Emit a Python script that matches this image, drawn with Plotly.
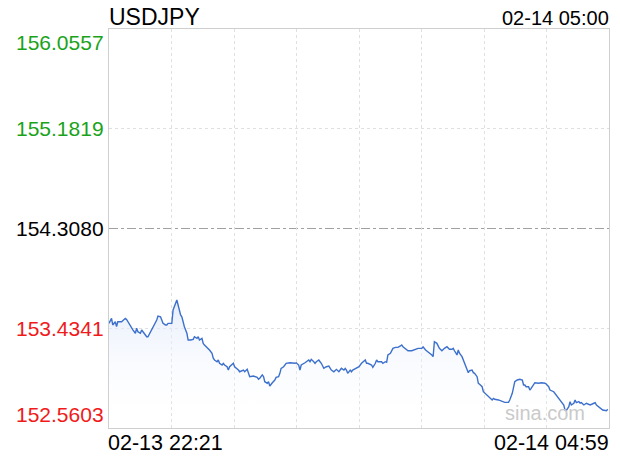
import plotly.graph_objects as go

# minutes since 02-13 22:21
minutes = [
    0, 2, 3, 5, 6, 7, 10, 13, 14, 15, 18, 19, 21, 22, 23, 25, 26, 27, 29, 30,
    31, 34, 37, 38, 39, 41, 42, 43, 45, 46, 47, 50, 51, 53, 54, 55, 56, 57, 58, 59,
    60, 62, 63, 65, 67, 68, 70, 71, 72, 74, 75, 76, 79, 80, 82, 83, 84, 86, 87, 88,
    90, 91, 92, 94, 95, 96, 99, 100, 103, 104, 107, 108, 110, 111, 112, 115, 118, 119, 120, 122,
    123, 124, 126, 127, 128, 130, 131, 132, 133, 135, 136, 137, 139, 141, 144, 147, 148, 149, 151, 152,
    153, 156, 159, 160, 161, 163, 164, 165, 167, 168, 169, 171, 173, 175, 176, 177, 179, 180, 181, 183,
    184, 185, 187, 188, 189, 190, 192, 193, 194, 197, 199, 201, 204, 205, 206, 209, 210, 212, 213, 214,
    217, 218, 220, 221, 222, 224, 225, 226, 228, 230, 232, 233, 234, 236, 238, 241, 244, 246, 249, 250,
    252, 254, 257, 258, 259, 261, 262, 263, 265, 266, 267, 269, 270, 271, 273, 274, 275, 277, 278, 279,
    281, 282, 283, 285, 286, 287, 289, 290, 291, 293, 294, 295, 297, 298, 301, 303, 305, 306, 307, 310,
    313, 315, 318, 319, 321, 322, 323, 325, 327, 329, 330, 331, 332, 334, 335, 336, 338, 339, 342, 344,
    347, 348, 350, 351, 354, 356, 359, 360, 362, 363, 364, 366, 367, 368, 370, 371, 372, 374, 375, 376,
    378, 380, 383, 386, 387, 388, 391, 393, 396, 397,
]
prices = [
    153.477, 153.521, 153.463, 153.491, 153.448, 153.491, 153.491, 153.521, 153.512, 153.491,
    153.434, 153.419, 153.390, 153.434, 153.404, 153.390, 153.419, 153.404, 153.375, 153.360,
    153.360, 153.419, 153.477, 153.506, 153.541, 153.535, 153.506, 153.477, 153.463, 153.463,
    153.477, 153.477, 153.594, 153.667, 153.682, 153.638, 153.579, 153.550, 153.535, 153.491,
    153.448, 153.390, 153.331, 153.331, 153.337, 153.360, 153.346, 153.360, 153.331, 153.346,
    153.302, 153.287, 153.258, 153.244, 153.215, 153.171, 153.156, 153.141, 153.156, 153.127,
    153.112, 153.127, 153.112, 153.097, 153.068, 153.097, 153.127, 153.097, 153.068, 153.053,
    153.068, 153.053, 153.074, 153.039, 153.010, 153.016, 153.004, 152.987, 152.996, 153.025,
    153.010, 152.966, 152.952, 152.966, 152.928, 152.957, 152.966, 152.981, 153.004, 153.010,
    153.039, 153.083, 153.097, 153.127, 153.132, 153.127, 153.127, 153.132, 153.112, 153.068,
    153.112, 153.132, 153.156, 153.141, 153.162, 153.141, 153.127, 153.141, 153.156, 153.141,
    153.127, 153.083, 153.097, 153.103, 153.083, 153.068, 153.053, 153.068, 153.074, 153.053,
    153.068, 153.083, 153.068, 153.083, 153.068, 153.039, 153.068, 153.053, 153.068, 153.083,
    153.097, 153.127, 153.156, 153.127, 153.127, 153.112, 153.092, 153.127, 153.156, 153.141,
    153.141, 153.127, 153.141, 153.136, 153.200, 153.215, 153.244, 153.258, 153.267, 153.267,
    153.279, 153.287, 153.272, 153.258, 153.237, 153.237, 153.250, 153.258, 153.258, 153.272,
    153.244, 153.229, 153.200, 153.185, 153.316, 153.302, 153.272, 153.258, 153.237, 153.250,
    153.258, 153.272, 153.258, 153.250, 153.250, 153.258, 153.237, 153.200, 153.244, 153.215,
    153.185, 153.156, 153.127, 153.083, 153.045, 153.062, 153.068, 153.045, 153.039, 153.010,
    152.952, 152.943, 152.922, 152.878, 152.849, 152.829, 152.806, 152.820, 152.812, 152.806,
    152.791, 152.785, 152.785, 152.806, 152.864, 152.922, 152.966, 152.981, 152.987, 152.981,
    152.937, 152.937, 152.922, 152.922, 152.893, 152.908, 152.937, 152.957, 152.952, 152.957,
    152.952, 152.946, 152.922, 152.893, 152.878, 152.849, 152.806, 152.791, 152.762, 152.718,
    152.712, 152.747, 152.791, 152.762, 152.777, 152.806, 152.782, 152.791, 152.777, 152.782,
    152.762, 152.777, 152.762, 152.777, 152.782, 152.762, 152.733, 152.718, 152.712, 152.724,
]

symbol = "USDJPY"
stamp = "02-14 05:00"
start_label = "02-13 22:21"
end_label = "02-14 04:59"
prev_close = 154.3080
y_levels = [156.0557, 155.1819, 154.3080, 153.4341, 152.5603]
y_level_colors = ["#1aa31a", "#1aa31a", "#000000", "#f01a1a", "#f01a1a"]
span_minutes = 398

FONT = "Liberation Sans, Arial, Helvetica, sans-serif"

fig = go.Figure()
fig.add_trace(
    go.Scatter(
        x=minutes,
        y=prices,
        mode="lines",
        line=dict(color="#3c70cc", width=1.4),
        fill="tozeroy",
        fillgradient=dict(
            type="vertical",
            colorscale=[[0, "rgba(255,255,255,0)"], [1, "rgba(222,232,250,0.75)"]],
            start=y_levels[-1],
            stop=max(prices),
        ),
        hoverinfo="skip",
        showlegend=False,
    )
)

# previous close line
fig.add_shape(
    type="line", xref="paper", x0=0, x1=1, yref="y", y0=prev_close, y1=prev_close,
    line=dict(color="#a0a0a0", width=1, dash="dashdot"), layer="below",
)

# y labels
for i, (val, col) in enumerate(zip(y_levels, y_level_colors)):
    anchor = "middle"
    if i == 0:
        anchor = "top"
    elif i == len(y_levels) - 1:
        anchor = "bottom"
    fig.add_annotation(
        x=0, xref="paper", xanchor="right", xshift=-3,
        y=val, yref="y", yanchor=anchor,
        text=f"{val:.4f}", showarrow=False,
        font=dict(family=FONT, size=21, color=col),
    )

fig.add_annotation(x=0, xref="paper", xanchor="left", xshift=-2, y=1, yref="paper",
                   yanchor="bottom", yshift=-3, text=symbol, showarrow=False,
                   font=dict(family=FONT, size=23, color="#000"))
fig.add_annotation(x=1, xref="paper", xanchor="right", xshift=2, y=1, yref="paper",
                   yanchor="bottom", yshift=-2, text=stamp, showarrow=False,
                   font=dict(family=FONT, size=20, color="#000"))
fig.add_annotation(x=0, xref="paper", xanchor="left", xshift=-3, y=0, yref="paper",
                   yanchor="top", yshift=-1, text=start_label, showarrow=False,
                   font=dict(family=FONT, size=21.5, color="#000"))
fig.add_annotation(x=1, xref="paper", xanchor="right", xshift=2, y=0, yref="paper",
                   yanchor="top", yshift=-1, text=end_label, showarrow=False,
                   font=dict(family=FONT, size=21.5, color="#000"))
fig.add_annotation(x=0.955, xref="paper", xanchor="right", y=0, yref="paper",
                   yanchor="bottom", yshift=2, text="sina.com", showarrow=False,
                   font=dict(family=FONT, size=20, color="#cacaca"))

fig.update_layout(
    width=620,
    height=460,
    margin=dict(l=109, r=11, t=29, b=32),
    paper_bgcolor="white",
    plot_bgcolor="white",
    xaxis=dict(
        range=[0, span_minutes],
        tickvals=[span_minutes * k / 8 for k in range(1, 8)],
        showticklabels=False,
        ticks="",
        showgrid=True,
        gridcolor="#e0e0e0",
        griddash="dot",
        gridwidth=1,
        showline=True,
        mirror=True,
        linecolor="#cfcfcf",
        linewidth=1,
        zeroline=False,
        fixedrange=True,
    ),
    yaxis=dict(
        range=[y_levels[-1], y_levels[0]],
        tickvals=[y_levels[1], y_levels[3]],
        showticklabels=False,
        ticks="",
        showgrid=True,
        gridcolor="#e0e0e0",
        griddash="dot",
        gridwidth=1,
        showline=True,
        mirror=True,
        linecolor="#cfcfcf",
        linewidth=1,
        zeroline=False,
        fixedrange=True,
    ),
)

fig.write_html(
    "out.html",
    config={"displayModeBar": False},
    post_script="document.body.style.margin='0';",
)
